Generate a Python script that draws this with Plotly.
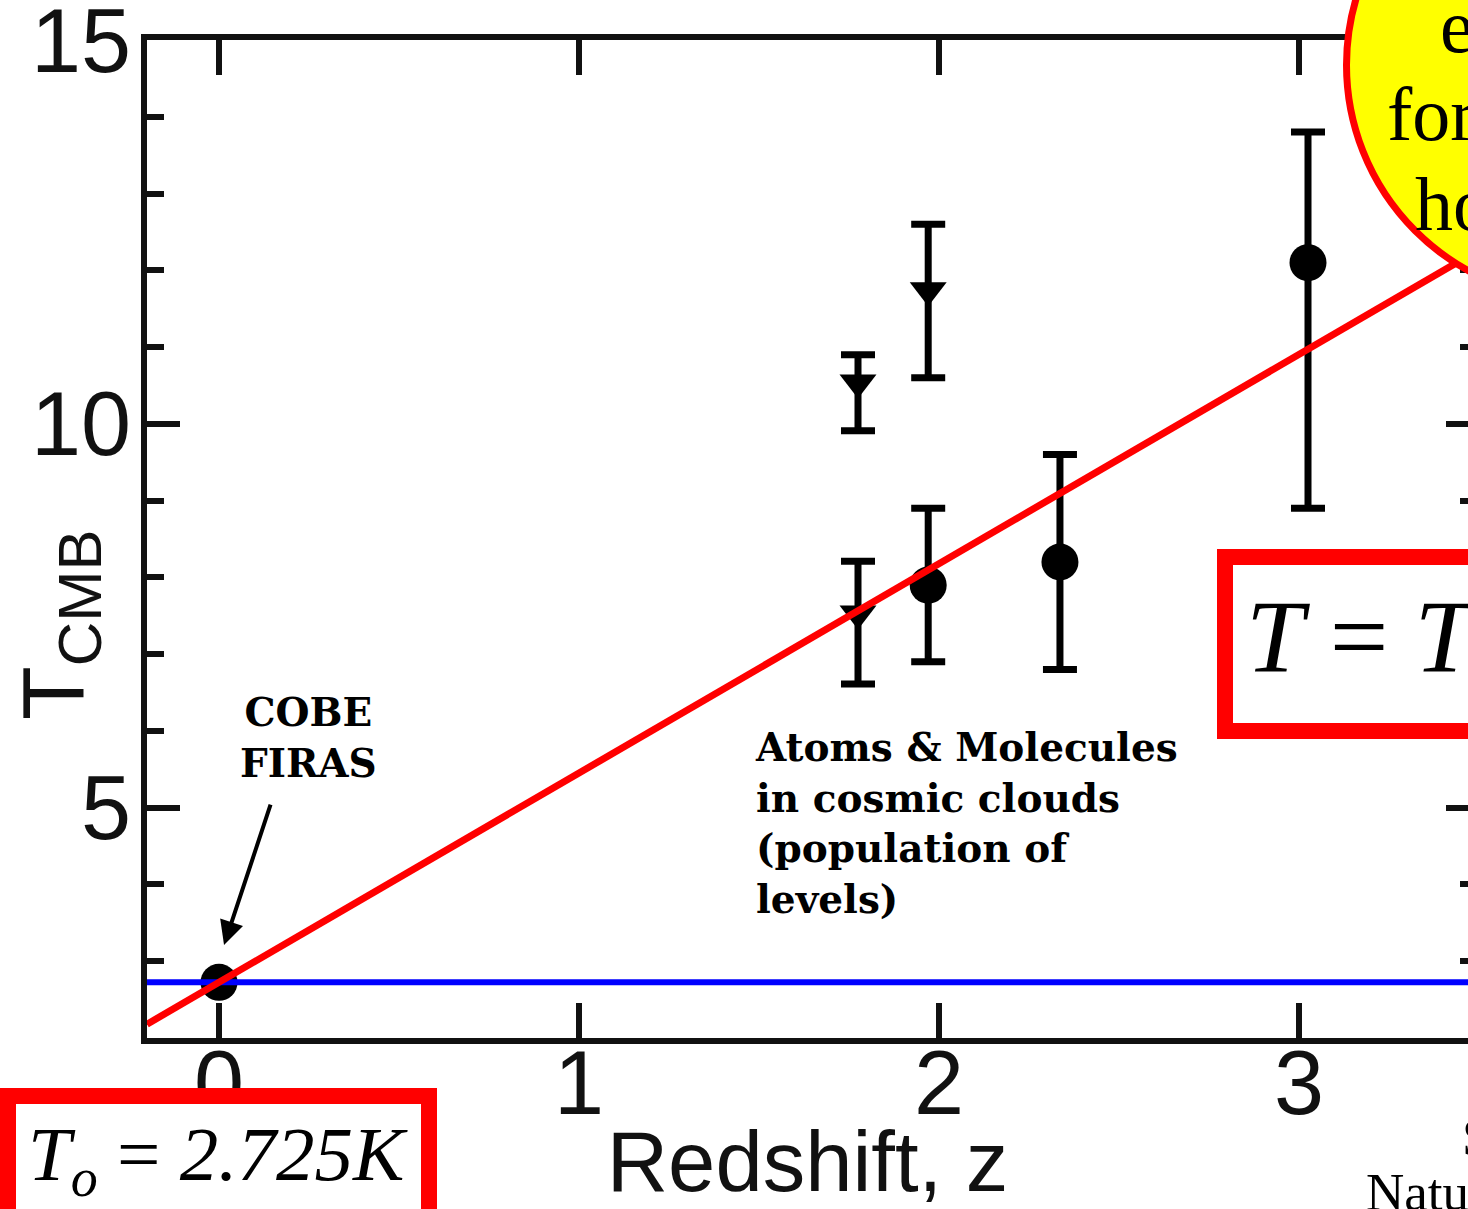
import plotly.graph_objects as go

# ---------------- data ----------------
T0 = 2.725
z_cobe = [0.0]
T_cobe = [2.725]

z_circ = [1.97, 2.336, 3.025]
T_circ = [7.9, 8.2, 12.1]
circ_err_plus = [1.0, 1.4, 1.7]
circ_err_minus = [1.0, 1.4, 3.2]

z_tri = [1.775, 1.97, 1.775]
T_tri = [10.54, 11.74, 7.53]
tri_err_plus = [0.36, 0.86, 0.68]
tri_err_minus = [0.63, 1.14, 0.92]

fit_z = [-0.2, 3.6]
fit_T = [2.18, 12.54]          # T = T0 (1+z) read at the ends
flat_z = [-0.2, 3.6]
flat_T = [T0, T0]

x_ticks = [0, 1, 2, 3]
y_ticks = [5, 10, 15]

# ---------------- geometry helpers ----------------
W, H = 1468, 1209
ML, MT, MB, MR = 147, 40, 171, 0
PW = W - ML - MR
PH = H - MT - MB


def px_x(p):
    return (p - ML) / PW


def px_y(p):
    return (H - MB - p) / PH


AX = '#111111'
TICKFONT = 'Liberation Sans, Arial, sans-serif'
SERIF = 'Liberation Serif, Times New Roman, serif'
BOLDSERIF = 'DejaVu Serif, serif'

fig = go.Figure()

fig.add_trace(go.Scatter(
    x=z_cobe, y=T_cobe, mode='markers', name='COBE FIRAS',
    marker=dict(symbol='circle', size=37, color='black'),
))
fig.add_trace(go.Scatter(
    x=z_circ, y=T_circ, mode='markers', name='circles',
    marker=dict(symbol='circle', size=37, color='black'),
    error_y=dict(type='data', symmetric=False, array=circ_err_plus,
                 arrayminus=circ_err_minus, color='black', thickness=7, width=17),
))
fig.add_trace(go.Scatter(
    x=z_tri, y=T_tri, mode='markers', name='triangles',
    marker=dict(symbol='triangle-down', size=32, color='black'),
    error_y=dict(type='data', symmetric=False, array=tri_err_plus,
                 arrayminus=tri_err_minus, color='black', thickness=7, width=17),
))
fig.add_trace(go.Scatter(
    x=flat_z, y=flat_T, mode='lines', name='T0', yaxis='y2',
    line=dict(color='#0000ff', width=6),
))
fig.add_trace(go.Scatter(
    x=fit_z, y=fit_T, mode='lines', name='T0(1+z)', yaxis='y2',
    line=dict(color='#ff0000', width=7),
))

axis_common = dict(showgrid=False, zeroline=False, automargin=False)

fig.update_layout(
    width=W, height=H,
    margin=dict(l=ML, r=MR, t=MT, b=MB, pad=0, autoexpand=False),
    paper_bgcolor='white', plot_bgcolor='white',
    showlegend=False,
    xaxis=dict(
        range=[-0.2, -0.2 + PW / 360.0],
        tickmode='array', tickvals=x_ticks, ticktext=[str(v) for v in x_ticks],
        ticks='inside', ticklen=35, tickwidth=6, tickcolor=AX,
        showline=True, linewidth=6, linecolor=AX, mirror='ticks',
        tickfont=dict(family=TICKFONT, size=90, color=AX),
        ticklabelstandoff=-38, ticklabeloverflow='allow',
        title=dict(text='Redshift, z', font=dict(family=TICKFONT, size=85, color=AX), standoff=54),
        **axis_common,
    ),
    yaxis=dict(
        range=[2, 15],
        tickmode='array', tickvals=y_ticks, ticktext=[str(v) for v in y_ticks],
        ticks='inside', ticklen=33, tickwidth=6, tickcolor=AX,
        minor=dict(dtick=1, tick0=0, ticks='inside', ticklen=17, tickwidth=6, tickcolor=AX),
        showline=True, linewidth=6, linecolor=AX, mirror=False,
        tickfont=dict(family=TICKFONT, size=90, color=AX),
        ticklabelstandoff=-8, ticklabeloverflow='allow',
        **axis_common,
    ),
    yaxis2=dict(
        range=[2, 15], overlaying='y', side='right', anchor='x',
        tickmode='array', tickvals=y_ticks,
        ticks='inside', ticklen=22, tickwidth=6, tickcolor=AX,
        minor=dict(dtick=1, tick0=0, ticks='inside', ticklen=8, tickwidth=6, tickcolor=AX),
        showline=False, showticklabels=False,
        **axis_common,
    ),
)

# ---------------- overlay shapes ----------------
cx, cy, r = 1581, 65, 234.5
fig.add_shape(type='circle', xref='paper', yref='paper',
              x0=px_x(cx - r), x1=px_x(cx + r), y0=px_y(cy + r), y1=px_y(cy - r),
              line=dict(color='#ff0000', width=7), fillcolor='#ffff00', layer='above')
fig.add_shape(type='rect', xref='paper', yref='paper',
              x0=px_x(1225), x1=px_x(1900), y0=px_y(731), y1=px_y(557),
              line=dict(color='#ff0000', width=16), fillcolor='white', layer='above')
fig.add_shape(type='rect', xref='paper', yref='paper',
              x0=px_x(8), x1=px_x(429), y0=px_y(1260), y1=px_y(1096),
              line=dict(color='#ff0000', width=16), fillcolor='white', layer='above')

# ---------------- annotations ----------------
ann = []
# y-axis title
ann.append(dict(text='T<sub>CMB</sub>', xref='paper', yref='paper',
                x=px_x(58), y=px_y(625), xanchor='center', yanchor='middle',
                textangle=-90, showarrow=False,
                font=dict(family='Liberation Sans, Arial', size=88, color=AX)))
# COBE FIRAS label + arrow
ann.append(dict(text='<b>COBE<br>FIRAS</b>', xref='paper', yref='paper',
                x=px_x(308), y=px_y(737), xanchor='center', yanchor='middle',
                align='center', showarrow=False,
                font=dict(family=BOLDSERIF, size=39, color='black')))
ann.append(dict(text='', x=0.014, y=3.21, xref='x', yref='y',
                showarrow=True, ax=47, ay=-142, arrowhead=2, arrowsize=1.2,
                arrowwidth=4, arrowcolor='black'))
# Atoms & Molecules
ann.append(dict(text='<b>Atoms &amp; Molecules<br>in cosmic clouds<br>(population of<br>levels)</b>',
                xref='paper', yref='paper', x=px_x(753), y=px_y(823),
                xanchor='left', yanchor='middle', align='left', showarrow=False,
                font=dict(family=BOLDSERIF, size=39, color='black')))
# formula boxes
ann.append(dict(text='<i>T<sub>o</sub></i> = <i>2.725K</i>', xref='paper', yref='paper',
                x=px_x(26), y=px_y(1109), xanchor='left', yanchor='top',
                showarrow=False, font=dict(family=SERIF, size=77, color='black')))
ann.append(dict(text='<i>T</i> = <i>T<sub>o</sub></i>(1 + <i>z</i>)', xref='paper', yref='paper',
                x=px_x(1244), y=px_y(577), xanchor='left', yanchor='top',
                showarrow=False, font=dict(family=SERIF, size=104, color='black')))
# circle text
for txt, xl, top in [('expected', 1438, -18), ('for adiabatic', 1385, 70), ('hot universe', 1413, 160)]:
    ann.append(dict(text=txt, xref='paper', yref='paper', x=px_x(xl), y=px_y(top),
                    xanchor='left', yanchor='top', showarrow=False,
                    font=dict(family=SERIF, size=76, color='black')))
# reference
ann.append(dict(text='Srianand et al.', xref='paper', yref='paper', x=px_x(1460), y=px_y(1106),
                xanchor='left', yanchor='top', showarrow=False,
                font=dict(family=SERIF, size=53, color='black')))
ann.append(dict(text='Nature 408, 931 (2000)', xref='paper', yref='paper', x=px_x(1364), y=px_y(1161),
                xanchor='left', yanchor='top', showarrow=False,
                font=dict(family=SERIF, size=53, color='black')))

fig.update_layout(annotations=ann)

fig.write_html('out.html')
